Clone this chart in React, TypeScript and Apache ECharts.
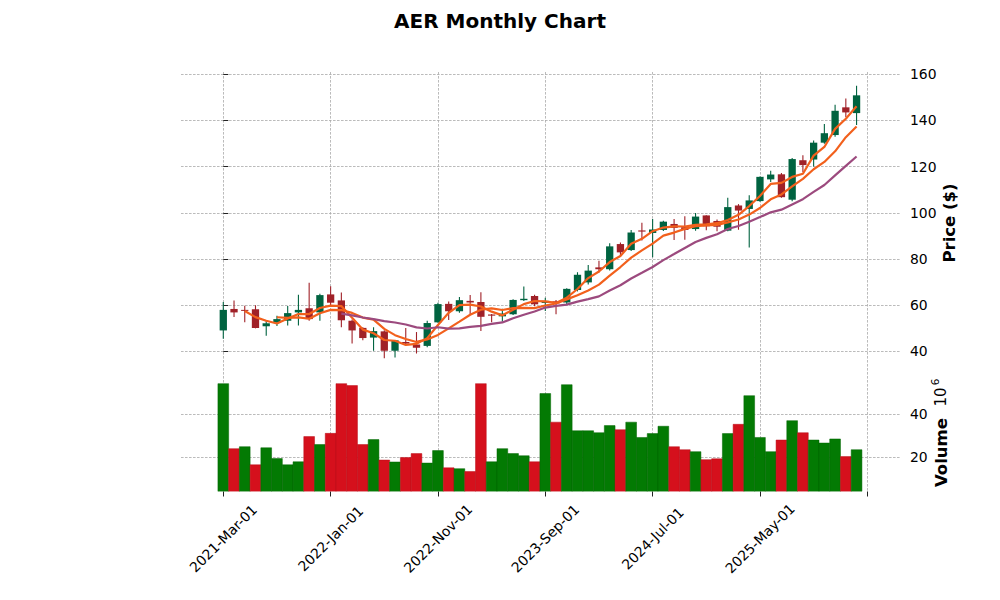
import React, { useEffect, useRef } from 'react';
import * as echarts from 'echarts';

// ---- data ----
const months = [
  '2021-03','2021-04','2021-05','2021-06','2021-07','2021-08','2021-09','2021-10','2021-11','2021-12',
  '2022-01','2022-02','2022-03','2022-04','2022-05','2022-06','2022-07','2022-08','2022-09','2022-10',
  '2022-11','2022-12','2023-01','2023-02','2023-03','2023-04','2023-05','2023-06','2023-07','2023-08',
  '2023-09','2023-10','2023-11','2023-12','2024-01','2024-02','2024-03','2024-04','2024-05','2024-06',
  '2024-07','2024-08','2024-09','2024-10','2024-11','2024-12','2025-01','2025-02','2025-03','2025-04',
  '2025-05','2025-06','2025-07','2025-08','2025-09','2025-10','2025-11','2025-12','2026-01','2026-02',
];
const opens = [
  49.1, 58.4, 58.0, 58.3, 50.9, 52.5, 53.3, 56.9, 58.7, 56.9,
  64.7, 62.1, 53.3, 50.2, 46.0, 48.7, 40.3, 44.1, 43.0, 42.4,
  52.6, 60.6, 57.4, 61.9, 61.4, 56.0, 55.2, 56.1, 62.2, 64.0,
  61.0, 61.7, 61.2, 66.6, 69.9, 76.4, 75.6, 86.5, 83.9, 92.4,
  91.3, 92.6, 95.2, 93.8, 93.0, 98.9, 96.5, 92.3, 103.2, 101.7,
  105.1, 114.5, 116.7, 105.7, 122.8, 123.1, 130.4, 133.7, 145.7, 143.2,
];
const highs = [
  61.4, 62.1, 59.8, 60.0, 53.4, 55.5, 59.7, 64.6, 69.7, 65.0,
  68.2, 65.5, 53.8, 50.5, 50.5, 49.2, 45.0, 50.1, 48.4, 53.3,
  61.1, 61.6, 63.6, 64.4, 65.6, 56.2, 58.5, 62.6, 68.1, 64.5,
  63.3, 62.3, 67.4, 74.3, 77.4, 79.3, 86.8, 87.2, 92.6, 95.7,
  97.4, 96.6, 97.4, 98.5, 99.9, 99.0, 97.1, 106.5, 103.8, 107.6,
  115.8, 118.2, 117.3, 123.8, 125.0, 131.3, 138.5, 146.8, 149.5, 155.1,
];
const lows = [
  45.5, 54.9, 52.6, 50.0, 46.8, 51.0, 51.2, 51.2, 53.3, 53.3,
  59.8, 50.5, 43.4, 44.8, 40.3, 37.0, 37.4, 42.7, 39.1, 41.8,
  52.4, 53.6, 56.8, 56.0, 48.9, 52.6, 53.0, 55.8, 61.8, 59.6,
  57.5, 56.1, 60.5, 66.0, 69.0, 74.2, 75.0, 81.4, 83.5, 88.0,
  80.8, 92.2, 88.3, 88.4, 92.3, 92.5, 92.0, 92.0, 92.7, 85.0,
  104.8, 113.4, 106.5, 105.0, 117.7, 120.1, 129.9, 133.0, 141.5, 138.1,
];
const closes = [
  58.0, 56.9, 57.6, 50.1, 52.2, 54.0, 56.6, 58.0, 54.0, 64.4,
  61.1, 53.5, 49.1, 45.8, 48.8, 40.3, 44.8, 43.4, 41.6, 52.3,
  60.5, 57.4, 62.2, 61.2, 55.0, 55.5, 56.4, 62.3, 62.8, 60.4,
  61.9, 60.8, 67.1, 73.2, 75.0, 75.6, 85.5, 82.9, 91.5, 91.9,
  92.8, 96.2, 93.5, 92.6, 98.4, 94.2, 94.0, 102.5, 101.0, 105.4,
  115.6, 116.6, 106.8, 123.3, 120.7, 130.4, 134.5, 144.2, 143.5, 150.9,
];
// volume in millions
const volumes = [
  54.1, 23.9, 24.8, 16.4, 24.3, 19.3, 16.4, 17.8, 29.5, 25.8,
  31.0, 54.1, 53.2, 25.8, 28.1, 18.6, 17.7, 19.8, 21.6, 17.2,
  23.0, 15.0, 14.6, 13.3, 54.1, 17.8, 23.9, 21.6, 20.6, 17.8,
  49.5, 36.2, 53.6, 32.2, 32.2, 31.3, 34.6, 32.7, 36.2, 29.1,
  30.9, 34.3, 24.8, 23.4, 22.5, 18.8, 19.2, 30.9, 35.2, 48.5,
  29.1, 22.5, 27.9, 36.9, 31.3, 27.9, 26.5, 28.4, 20.2, 23.4,
];
const maPeriods = [3, 6, 12];
const dateTickPositions = [0, 10, 20, 30, 40, 50];
const dateTickLabels = ['2021-Mar-01', '2022-Jan-01', '2022-Nov-01', '2023-Sep-01', '2024-Jul-01', '2025-May-01'];
const dateTickMarks = [0, 10, 20, 30, 40, 50, 60];
const priceTicks = [40, 60, 80, 100, 120, 140, 160];
const volumeTicks = [20, 40];

// ---- style ----
const FONT = 'DejaVu Sans';
const UP = '#006340';
const DOWN = '#a02128';
const VUP = '#037a03';
const VDOWN = '#d5101c';
const MA_COLORS = ['#f2601c', '#f2601c', '#9c4a7e'];
const GRID_LINE = { color: '#a9a9a9', width: 0.8, type: [2.6, 1.4] as any };

function sma(values: number[], n: number) {
  const out: number[][] = [];
  for (let i = n - 1; i < values.length; i++) {
    let s = 0;
    for (let k = i - n + 1; k <= i; k++) s += values[k];
    out.push([i, s / n]);
  }
  return out;
}

export default function App() {
  const ref = useRef<HTMLDivElement>(null);
  useEffect(() => {
    const chart = echarts.init(ref.current!, null, { renderer: 'svg' });
    const candleData = months.map((_, i) => [i, opens[i], highs[i], lows[i], closes[i]]);
    const volData = volumes.map((v, i) => [i, v, i === 0 || closes[i] >= closes[i - 1] ? 1 : 0]);

    const xMin = -3.94;
    const xMax = 63.14;

    const splitLine = { show: true, lineStyle: GRID_LINE };
    const tickStyle = { color: '#222', width: 1 };
    const labelStyle = { fontFamily: FONT, fontSize: 13.9, color: '#000' };

    const option: any = {
      animation: false,
      backgroundColor: '#ffffff',
      textStyle: { fontFamily: FONT },
      grid: [
        { left: 181, right: 99, top: 72, height: 300 },
        { left: 181, right: 99, top: 372, height: 119.5 },
      ],
      xAxis: [
        {
          type: 'value', gridIndex: 0, min: xMin, max: xMax, splitNumber: 7,
          axisLine: { show: false },
          axisTick: { show: false, customValues: dateTickMarks },
          axisLabel: { show: false },
          splitLine,
        },
        {
          type: 'value', gridIndex: 1, min: xMin, max: xMax, splitNumber: 7,
          axisLine: { show: false },
          axisTick: { show: true, inside: false, length: 5, customValues: dateTickMarks, lineStyle: tickStyle },
          axisLabel: {
            show: true, customValues: dateTickPositions,
            formatter: (v: number) => {
              const k = dateTickPositions.indexOf(Math.round(v));
              return k >= 0 && Math.abs(v - Math.round(v)) < 1e-6 ? dateTickLabels[k] : '';
            },
            rotate: 45, align: 'center', verticalAlign: 'middle', margin: 47,
            ...labelStyle,
          },
          splitLine,
        },
      ],
      yAxis: [
        {
          type: 'value', gridIndex: 0, position: 'right', min: 31.1, max: 161.0, splitNumber: 6,
          axisLine: { show: false },
          axisTick: { show: true, inside: false, length: 5, customValues: priceTicks, lineStyle: tickStyle },
          axisLabel: {
            show: true, customValues: priceTicks, margin: 9,
            formatter: (v: number) => (priceTicks.includes(v) ? String(v) : ''),
            ...labelStyle,
          },
          splitLine,
        },
        {
          type: 'value', gridIndex: 1, position: 'right', min: 4.0, max: 59.5, splitNumber: 3,
          axisLine: { show: false },
          axisTick: { show: true, inside: false, length: 5, customValues: volumeTicks, lineStyle: tickStyle },
          axisLabel: {
            show: true, customValues: volumeTicks, margin: 9,
            formatter: (v: number) => (volumeTicks.includes(v) ? String(v) : ''),
            ...labelStyle,
          },
          splitLine,
        },
      ],
      series: [
        {
          type: 'custom', name: 'candles', xAxisIndex: 0, yAxisIndex: 0, clip: true,
          encode: { x: 0, y: [1, 2, 3, 4] },
          data: candleData,
          renderItem: (params: any, api: any) => {
            const x = api.value(0);
            const o = api.value(1), h = api.value(2), l = api.value(3), c = api.value(4);
            const pO = api.coord([x, o]);
            const pC = api.coord([x, c]);
            const pH = api.coord([x, h]);
            const pL = api.coord([x, l]);
            const w = api.size([1, 0])[0] * 0.68;
            const color = c >= o ? UP : DOWN;
            const top = Math.min(pO[1], pC[1]);
            const hgt = Math.max(Math.abs(pO[1] - pC[1]), 1);
            return {
              type: 'group',
              children: [
                { type: 'line', shape: { x1: pH[0], y1: pH[1], x2: pL[0], y2: pL[1] }, style: { stroke: color, lineWidth: 1.1 } },
                { type: 'rect', shape: { x: pO[0] - w / 2, y: top, width: w, height: hgt }, style: { fill: color } },
              ],
            };
          },
        },
        ...maPeriods.map((n, k) => ({
          type: 'line', name: 'MA' + n, xAxisIndex: 0, yAxisIndex: 0,
          data: sma(closes, n), showSymbol: false, symbol: 'none',
          lineStyle: { color: MA_COLORS[k], width: 2.2 },
          z: 3,
        })),
        {
          type: 'custom', name: 'volume', xAxisIndex: 1, yAxisIndex: 1, clip: true,
          encode: { x: 0, y: 1 },
          data: volData,
          renderItem: (params: any, api: any) => {
            const x = api.value(0);
            const v = api.value(1);
            const up = api.value(2) === 1;
            const p = api.coord([x, v]);
            const cs = params.coordSys;
            const bottom = cs.y + cs.height;
            const w = api.size([1, 0])[0];
            return {
              type: 'rect',
              shape: { x: p[0] - w / 2, y: p[1], width: w, height: bottom - p[1] },
              style: { fill: up ? VUP : VDOWN, stroke: up ? '#026402' : '#b80e18', lineWidth: 0.5 },
            };
          },
        },
      ],
      graphic: [
        {
          type: 'text', x: 500, y: 21,
          style: { text: 'AER Monthly Chart', font: `bold 20px "${FONT}"`, fill: '#000', align: 'center', verticalAlign: 'middle' },
        },
        {
          type: 'text', x: 949, y: 223, rotation: Math.PI / 2,
          style: { text: 'Price ($)', font: `bold 16.5px "${FONT}"`, fill: '#000', align: 'center', verticalAlign: 'middle' },
        },
        {
          type: 'text', x: 941, y: 452.5, rotation: Math.PI / 2,
          style: { text: 'Volume', font: `bold 16.5px "${FONT}"`, fill: '#000', align: 'center', verticalAlign: 'middle' },
        },
        {
          type: 'text', x: 941, y: 397, rotation: Math.PI / 2,
          style: { text: '10', font: `15px "${FONT}"`, fill: '#000', align: 'center', verticalAlign: 'middle' },
        },
        {
          type: 'text', x: 935, y: 382, rotation: Math.PI / 2,
          style: { text: '6', font: `10.5px "${FONT}"`, fill: '#000', align: 'center', verticalAlign: 'middle' },
        },
      ],
    };
    chart.setOption(option);
    return () => chart.dispose();
  }, []);
  return <div ref={ref} style={{ position: 'fixed', left: 0, top: 0, width: 1000, height: 600, background: '#fff' }} />;
}
